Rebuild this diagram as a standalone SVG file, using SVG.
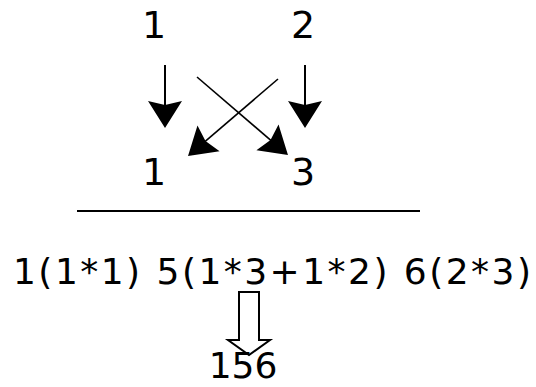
<svg xmlns="http://www.w3.org/2000/svg" width="536" height="387" viewBox="0 0 536 387">
<style>
.t{font-family:"DejaVu Sans",Verdana,sans-serif;fill:#000}
.big{font-size:38px;text-anchor:middle}
.ln{stroke:#000;fill:none}
</style>
<defs>
<marker id="ah" markerUnits="userSpaceOnUse" viewBox="-30 -20 32 40" markerWidth="32" markerHeight="40" refX="-8" refY="0" orient="auto">
<path d="M0,0 L-27,-17 L-23,0 L-27,17 Z" fill="#000"/>
</marker>
</defs>
<rect width="536" height="387" fill="#fff"/>
<g id="top-1"><text class="t big" x="154" y="38">1</text></g>
<g id="top-2"><text class="t big" x="303" y="38">2</text></g>
<g id="bot-1"><text class="t big" x="154" y="185">1</text></g>
<g id="bot-3"><text class="t big" x="303" y="185">3</text></g>
<g id="connectors">
<line class="ln" x1="165" y1="65" x2="165" y2="120" stroke-width="2" marker-end="url(#ah)"/>
<line class="ln" x1="305" y1="65" x2="305" y2="120" stroke-width="2" marker-end="url(#ah)"/>
<line class="ln" x1="197" y1="77" x2="281.9" y2="149.8" stroke-width="1.6" marker-end="url(#ah)"/>
<line class="ln" x1="278" y1="79" x2="194.1" y2="150.8" stroke-width="1.6" marker-end="url(#ah)"/>
</g>
<g id="rule"><line class="ln" x1="77" y1="211" x2="420" y2="211" stroke-width="2"/></g>
<g id="expr"><text class="t" x="13" y="284" font-size="36" textLength="518" lengthAdjust="spacing">1(1*1) 5(1*3+1*2) 6(2*3)</text></g>
<g id="hollow-arrow"><path class="ln" stroke-width="2" d="M239,292 V340 H228 L249,355 L270,340 H259 V292 Z"/></g>
<g id="result"><text class="t" x="243" y="378" font-size="36" text-anchor="middle">156</text></g>
</svg>
